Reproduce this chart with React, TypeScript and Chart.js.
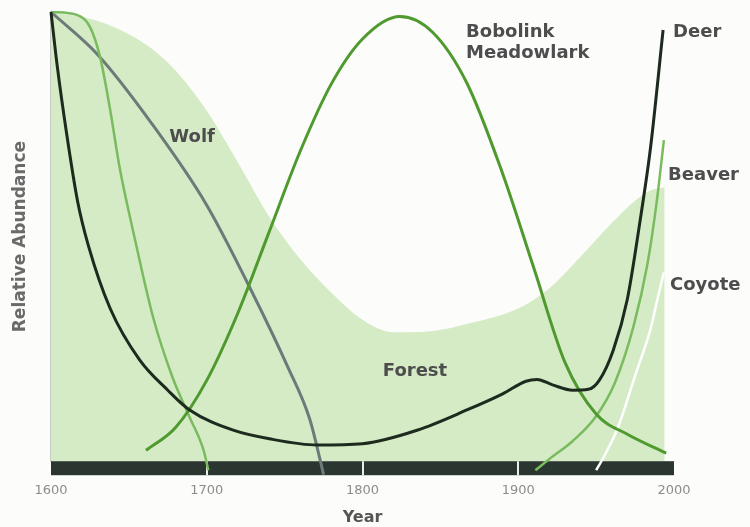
import React, { useEffect, useRef } from "react";
import { Chart, registerables } from "chart.js";

Chart.register(...registerables);

// ---- data (years on x, relative abundance 0-100 on y) ----
const yearTicks = [1600, 1700, 1800, 1900, 2000];

const forestYears = [1600, 1630, 1660, 1680, 1700, 1720, 1740, 1760, 1780, 1800, 1820, 1840, 1870, 1900, 1920, 1940, 1960, 1975, 1985, 1994];
const forestValues = [100, 98, 93, 87, 78, 66.5, 54.5, 45, 37.5, 31.5, 28.7, 28.8, 30.8, 34, 38.5, 45.5, 53, 58, 60.3, 61];

const wolfYears = [1600, 1630, 1664, 1700, 1730, 1752, 1766, 1773, 1775];
const wolfValues = [100, 90.5, 75.5, 57, 37, 21, 9.5, 0, -3];

const beaverEarlyYears = [1600, 1617, 1625, 1631.5, 1638, 1644, 1653, 1665.5, 1678, 1689, 1698, 1701];
const beaverEarlyValues = [100, 99.3, 96.7, 90, 78.2, 65.5, 50.8, 32.1, 18.7, 9.8, 2.4, -2];

const beaverLateYears = [1911, 1920, 1935, 1950, 1962, 1974, 1983, 1989, 1993.5];
const beaverLateValues = [-2, 0.5, 4.5, 10, 17.4, 30, 44, 58, 71.5];

const coyoteYears = [1950, 1955, 1964, 1975, 1985, 1990, 1993.5];
const coyoteValues = [-2, 1, 7.5, 19, 29.5, 37, 42];

const bobolinkYears = [1661, 1680, 1700, 1720, 1740, 1760, 1780, 1800, 1824, 1845, 1867, 1890, 1910, 1930, 1950, 1970, 1995];
const bobolinkValues = [2.4, 7.5, 18, 33, 51, 69, 84, 94, 99, 95.5, 84.2, 64, 43, 22, 10.5, 6, 1.8];

const deerYears = [1600, 1604, 1610, 1617, 1624, 1638, 1657, 1675, 1689, 1717, 1740, 1771, 1800, 1835, 1867, 1890, 1905, 1912, 1922, 1935, 1945, 1952, 1961, 1970, 1978, 1985, 1993];
const deerValues = [100, 88, 73, 58, 48, 34, 22.5, 15.8, 11.4, 6.9, 5, 3.6, 3.9, 6.9, 11.4, 15, 17.8, 18.2, 17, 15.8, 16, 18, 24.7, 36, 53, 70, 96];

// ---- text annotations (anchored in data units) ----
const annotationTexts = ["Wolf", "Bobolink", "Meadowlark", "Deer", "Beaver", "Coyote", "Forest"];
const annotationYears = [1676, 1866.5, 1866.5, 1999.4, 1996.2, 1997.4, 1833.7];
const annotationValues = [72.2, 95.5, 90.7, 95.5, 63.7, 39.2, 20];
const annotationAligns: CanvasTextAlign[] = ["left", "left", "left", "left", "left", "left", "center"];

const pts = (xs: number[], ys: number[]) => xs.map((x, i) => ({ x, y: ys[i] }));

const FONT = "'DejaVu Sans', sans-serif";

const timeBarPlugin = {
  id: "timeBar",
  beforeDatasetsDraw(chart: any) {
    const { ctx, chartArea, scales } = chart;
    const xs = scales.x;
    const h = 14;
    ctx.save();
    ctx.fillStyle = "#2c3630";
    ctx.fillRect(chartArea.left, chartArea.bottom, chartArea.right - chartArea.left, h);
    ctx.strokeStyle = "#e9efe7";
    ctx.lineWidth = 2;
    yearTicks.slice(1, -1).forEach((t) => {
      const px = Math.round(xs.getPixelForValue(t));
      ctx.beginPath();
      ctx.moveTo(px, chartArea.bottom);
      ctx.lineTo(px, chartArea.bottom + h);
      ctx.stroke();
    });
    ctx.restore();
  },
};

const labelPlugin = {
  id: "speciesLabels",
  afterDatasetsDraw(chart: any) {
    const { ctx, scales } = chart;
    ctx.save();
    ctx.font = `bold 18px ${FONT}`;
    ctx.fillStyle = "#4d4d4d";
    ctx.textBaseline = "middle";
    annotationTexts.forEach((t, i) => {
      ctx.textAlign = annotationAligns[i];
      ctx.fillText(t, scales.x.getPixelForValue(annotationYears[i]), scales.y.getPixelForValue(annotationValues[i]));
    });
    ctx.restore();
  },
};

export default function App() {
  const ref = useRef<HTMLCanvasElement | null>(null);

  useEffect(() => {
    if (!ref.current) return;
    const line = (label: string, data: any[], color: string, width: number, order: number) => ({
      label,
      data,
      borderColor: color,
      borderWidth: width,
      pointRadius: 0,
      fill: false,
      cubicInterpolationMode: "monotone" as const,
      clip: false as any,
      order,
    });
    const chart = new Chart(ref.current, {
      type: "line",
      data: {
        datasets: [
          line("Deer", pts(deerYears, deerValues), "#1d2a1e", 3, 1),
          line("Bobolink / Meadowlark", pts(bobolinkYears, bobolinkValues), "#4f9a2f", 3, 2),
          line("Coyote", pts(coyoteYears, coyoteValues), "#ffffff", 2.5, 3),
          line("Beaver", pts(beaverLateYears, beaverLateValues), "#79bb5e", 2.5, 4),
          line("Beaver (early)", pts(beaverEarlyYears, beaverEarlyValues), "#79bb5e", 2.5, 5),
          line("Wolf", pts(wolfYears, wolfValues), "#6c7a79", 3, 6),
          {
            label: "Forest",
            data: pts(forestYears, forestValues),
            borderWidth: 0,
            borderColor: "rgba(0,0,0,0)",
            backgroundColor: "#d5ebc5",
            fill: "origin",
            pointRadius: 0,
            cubicInterpolationMode: "monotone" as const,
            order: 10,
          },
        ],
      },
      options: {
        responsive: false,
        animation: false,
        events: [],
        layout: { padding: { left: 8, right: 76, top: 12, bottom: 0 } },
        plugins: { legend: { display: false }, tooltip: { enabled: false } },
        scales: {
          x: {
            type: "linear",
            min: 1600,
            max: 2000,
            afterBuildTicks: (s: any) => {
              s.ticks = yearTicks.map((v) => ({ value: v }));
            },
            ticks: {
              callback: (v: any) => String(v),
              autoSkip: false,
              maxRotation: 0,
              padding: 8,
              color: "#8c8c8c",
              font: { family: FONT, size: 13 },
            },
            grid: {
              display: true,
              drawOnChartArea: false,
              drawTicks: true,
              tickLength: 14,
              color: "rgba(0,0,0,0)",
            },
            border: { display: false },
            title: {
              display: true,
              text: "Year",
              color: "#555555",
              font: { family: FONT, size: 16, weight: "bold" },
              padding: { top: 1, bottom: 0 },
            },
          },
          y: {
            type: "linear",
            min: 0,
            max: 100,
            ticks: { display: false },
            grid: { display: false, drawTicks: false },
            border: { display: true, color: "#c6cbc3", width: 2 },
            title: {
              display: true,
              text: "Relative Abundance",
              color: "#6a6a6a",
              font: { family: FONT, size: 17, weight: "bold" },
              padding: { top: 2.8, bottom: 19.8 },
            },
          },
        },
      },
      plugins: [timeBarPlugin, labelPlugin],
    });
    return () => chart.destroy();
  }, []);

  return (
    <div style={{ position: "fixed", left: 0, top: 0, width: 750, height: 527, background: "#fcfdfa" }}>
      <canvas ref={ref} width={750} height={527} />
    </div>
  );
}
